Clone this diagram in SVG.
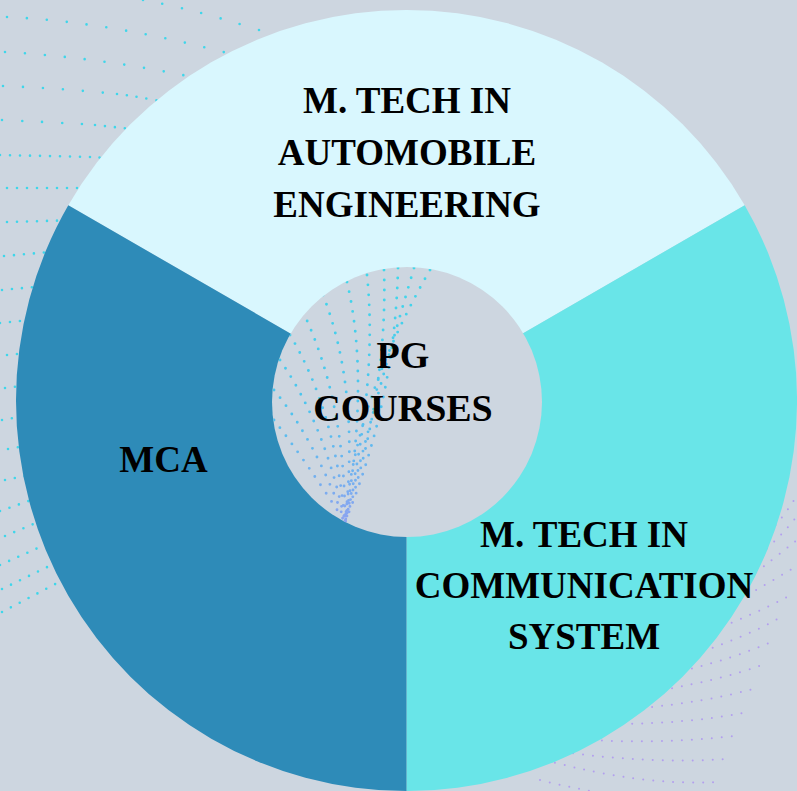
<svg xmlns="http://www.w3.org/2000/svg" width="797" height="791" viewBox="0 0 797 791">
  <defs>
    <style>
      .dc { fill: none; stroke: #3fd6ea; stroke-width: 2.6; stroke-linecap: round; stroke-dasharray: 0 10; }
      .dc20 { stroke-dasharray: 0 20; }
      .dp { fill: none; stroke: #a98cf3; stroke-width: 2; stroke-linecap: round; stroke-dasharray: 0 10; opacity: 0.75; }
      .df { fill: none; stroke: url(#fanG); stroke-width: 2.9; stroke-linecap: round; stroke-dasharray: 0 10; }
      .lbl { font-family: "Liberation Serif", "Times New Roman", serif; font-weight: bold; font-size: 37px; fill: #000; text-anchor: middle; }
      .hub { font-size: 38px; }
    </style>
    <linearGradient id="fanG" gradientUnits="userSpaceOnUse" x1="0" y1="270" x2="0" y2="525">
      <stop offset="0" stop-color="#3fd8ea"/>
      <stop offset="0.55" stop-color="#4ec3ee"/>
      <stop offset="1" stop-color="#8ea2f0"/>
    </linearGradient>
    <clipPath id="hole">
      <circle cx="407" cy="402" r="135"/>
    </clipPath>
  </defs>

  <rect width="797" height="791" fill="#cdd6e0"/>

  <!-- background dot pattern -->
  <g id="bg-dots">
    <path class="dc dc20" d="M143,0 Q210,12 300,44"/>
    <path class="dc dc20" d="M7,17 Q120,22 260,62"/>
    <path class="dc dc20" d="M5,52 Q110,58 215,82"/>
    <path class="dc dc20" d="M3,86 Q55,88 107,93"/>
    <path class="dc" d="M117,94 Q135,96 175,104"/>
    <path class="dc dc20" d="M2,120 Q45,122 83,124"/>
    <path class="dc" d="M95,125 L150,131"/>
    <path class="dc" d="M0,155 L93,157 Q108,158 130,160"/>
    <path class="dc" d="M7,188 L100,188"/>
    <path class="dc" d="M7,222 L80,220"/>
    <path class="dc" d="M4,256 L50,252"/>
    <path class="dc" d="M2,290 L45,286"/>
    <path class="dc" d="M0,323 L40,319"/>
    <path class="dc" d="M7,355 L35,352"/>
    <path class="dc" d="M5,388 L30,385"/>
    <path class="dc" d="M2,420 L30,415"/>
    <path class="dc" d="M8,449 L30,445"/>
    <path class="dc" d="M5,480 L35,474"/>
    <path class="dc" d="M0,511 L40,497"/>
    <path class="dc" d="M5,536 L50,517"/>
    <path class="dc" d="M0,565 L60,538"/>
    <path class="dc" d="M2,589 L70,556"/>
    <path class="dc" d="M2,612 L80,571"/>

    <path class="dp" d="M540,780 Q580,790 620,796"/>
    <path class="dp" d="M545,760 Q640,786 717,782"/>
    <path class="dp" d="M563,752 Q650,764 727,759"/>
    <path class="dp" d="M592,740 Q660,744 735,736"/>
    <path class="dp" d="M622,724 Q690,723 743,713"/>
    <path class="dp" d="M642,708 Q705,702 753,689"/>
    <path class="dp" d="M662,690 Q720,680 762,665"/>
    <path class="dp" d="M682,671 Q735,658 771,642"/>
    <path class="dp" d="M703,651 Q750,635 779,618"/>
    <path class="dp" d="M713,630 Q755,614 787,597"/>
    <path class="dp" d="M730,605 Q765,585 797,566"/>
    <path class="dp" d="M740,585 Q772,560 797,540"/>
    <path class="dp" d="M752,562 Q780,538 797,516"/>
    <path class="dp" d="M762,540 Q786,515 797,495"/>
  </g>

  <!-- ring segments -->
  <g id="seg-automobile">
    <path d="M406.5,400.5 L68.3,205.25 A390.5,390.5 0 0 1 744.7,205.25 Z" fill="#d9f7fe"/>
  </g>
  <g id="seg-communication">
    <path d="M406.5,400.5 L744.7,205.25 A390.5,390.5 0 0 1 406.5,791 Z" fill="#69e5e8"/>
  </g>
  <g id="seg-mca">
    <path d="M406.5,400.5 L406.5,791 A390.5,390.5 0 0 1 68.3,205.25 Z" fill="#2e8bb8"/>
  </g>

  <!-- center hub -->
  <g id="hub">
    <circle cx="407" cy="402" r="135" fill="#cdd6e0"/>
    <g clip-path="url(#hole)">
      <path class="df" d="M430,270 Q355,400 345,522"/>
      <path class="df" d="M414,268 Q375,400 345,522"/>
      <path class="df" d="M398,268 Q395,400 345,522"/>
      <path class="df" d="M384,270 Q388,390 345,522"/>
      <path class="df" d="M367,275 Q378,380 345,522"/>
      <path class="df" d="M347,282 Q370,380 345,522"/>
      <path class="df" d="M323,295 Q360,390 345,522"/>
      <path class="df" d="M303,312 Q345,400 345,522"/>
      <path class="df" d="M290,335 Q335,410 345,522"/>
      <path class="df" d="M280,360 Q325,425 345,522"/>
      <path class="df" d="M274,390 Q315,440 345,522"/>
      <path class="df" d="M274,420 Q305,460 345,522"/>
    </g>
    <text class="lbl hub" x="403" y="368">PG</text>
    <text class="lbl hub" x="403" y="421">COURSES</text>
  </g>

  <g id="label-automobile">
    <text class="lbl" x="407" y="113">M. TECH IN</text>
    <text class="lbl" x="407" y="165">AUTOMOBILE</text>
    <text class="lbl" x="407" y="217">ENGINEERING</text>
  </g>
  <g id="label-mca">
    <text class="lbl" x="163.5" y="472">MCA</text>
  </g>
  <g id="label-communication">
    <text class="lbl" x="584" y="547">M. TECH IN</text>
    <text class="lbl" x="584" y="598">COMMUNICATION</text>
    <text class="lbl" x="584" y="649">SYSTEM</text>
  </g>

  <g id="connectors"></g>
</svg>
